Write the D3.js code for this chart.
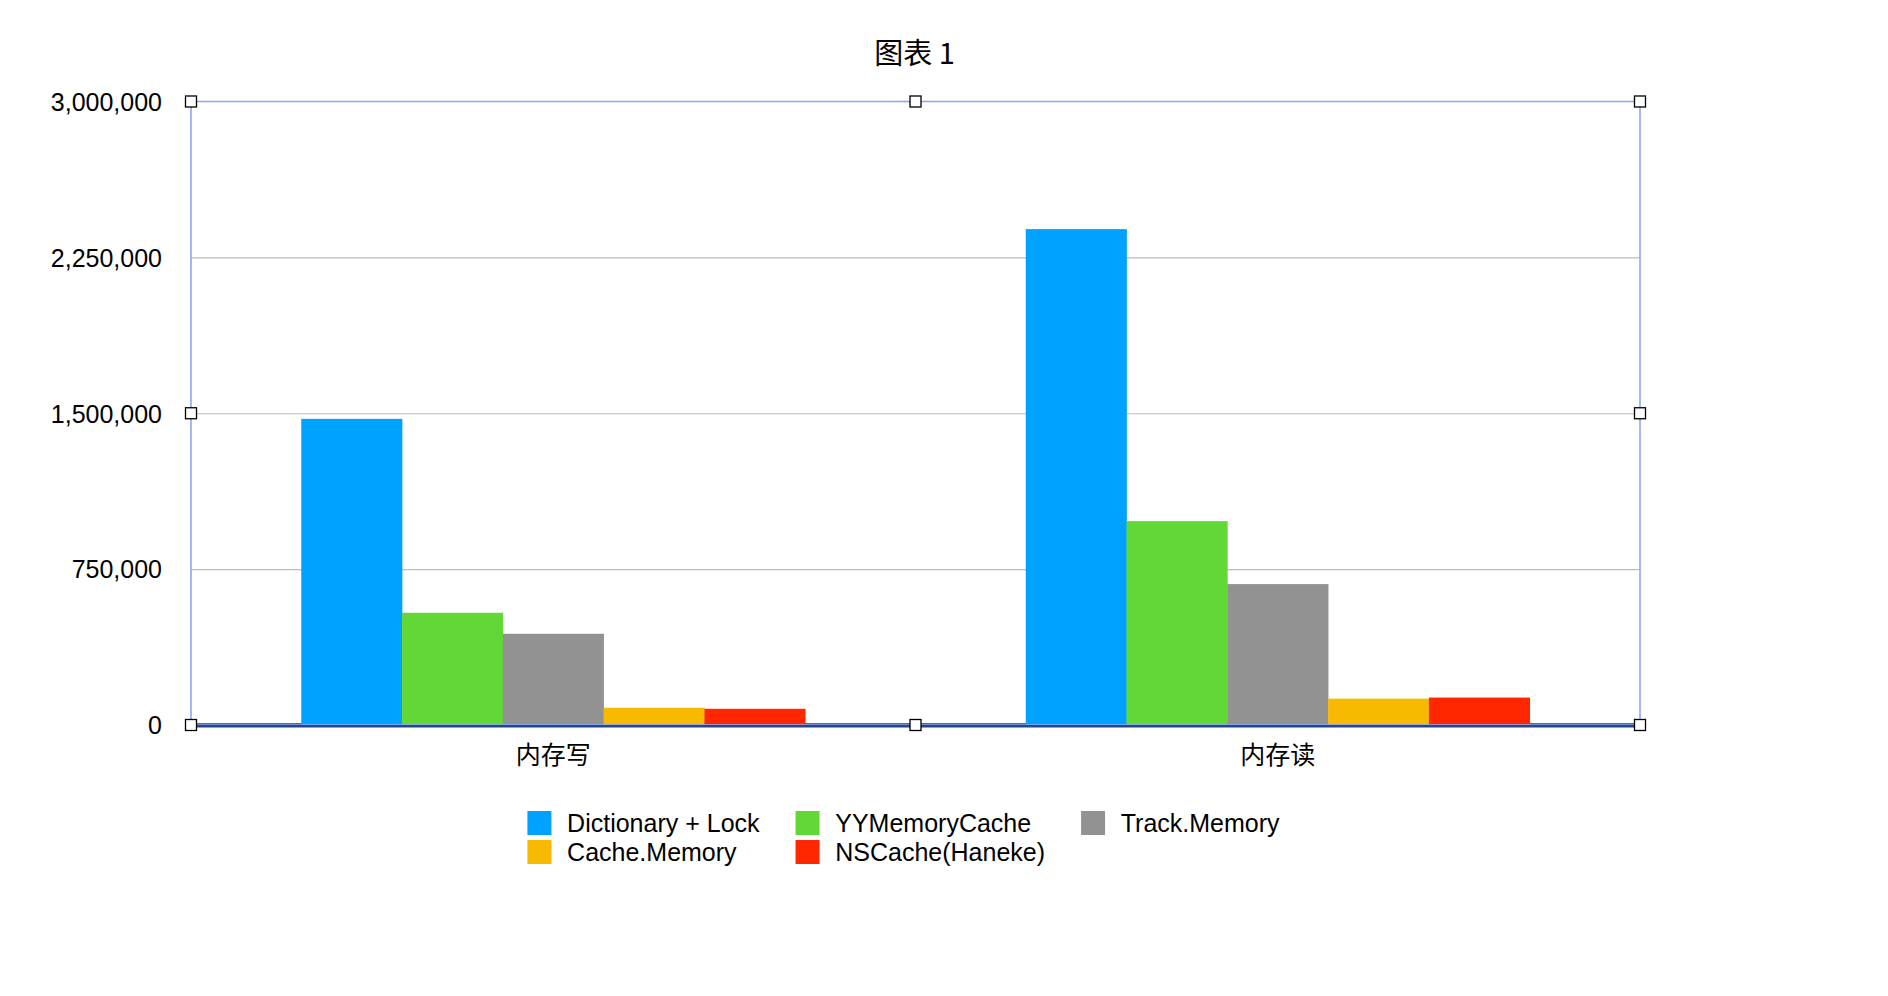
<!DOCTYPE html>
<html>
<head>
<meta charset="utf-8">
<script src="https://cdn.jsdelivr.net/npm/d3@7"></script>
<style>
  html, body { margin: 0; padding: 0; background: #ffffff; }
  svg { display: block; }
  text { font-family: "Liberation Sans", "Noto Sans CJK SC", sans-serif; fill: #000; }
</style>
</head>
<body>
<svg id="chart" width="1888" height="996"></svg>
<script>
const title = "图表 1";
const categories = ["内存写", "内存读"];
const seriesNames = ["Dictionary + Lock", "YYMemoryCache", "Track.Memory", "Cache.Memory", "NSCache(Haneke)"];
const seriesColors = ["#00A2FF", "#61D836", "#929292", "#F8BA00", "#FF2600"];
const dictionaryLock = [1473000, 2386000];
const yyMemoryCache = [540000, 981000];
const trackMemory = [439000, 678000];
const cacheMemory = [83000, 127000];
const nsCacheHaneke = [78000, 132000];
const yTicks = [0, 750000, 1500000, 2250000, 3000000];
const legendRows = [["Dictionary + Lock", "YYMemoryCache", "Track.Memory"], ["Cache.Memory", "NSCache(Haneke)"]];

const seriesValues = [dictionaryLock, yyMemoryCache, trackMemory, cacheMemory, nsCacheHaneke];

const svg = d3.select("#chart");
const plot = { left: 191, right: 1640, top: 101.5, bottom: 725 };

const x0 = d3.scaleBand().domain(categories).range([plot.left, plot.right]).padding(0);
const x1 = d3.scaleBand().domain(seriesNames).range([0, x0.bandwidth()]).paddingInner(0).paddingOuter(1.094);
const y = d3.scaleLinear().domain([0, 3000000]).range([plot.bottom, plot.top]);
const color = d3.scaleOrdinal().domain(seriesNames).range(seriesColors);

// Title
svg.append("text")
  .attr("x", (plot.left + plot.right) / 2 - 1)
  .attr("y", 63.5)
  .attr("text-anchor", "middle")
  .style("font-size", "29px")
  .style("font-family", "'Noto Sans CJK SC', sans-serif")
  .text(title);

// Gridlines
svg.append("g")
  .selectAll("line")
  .data(yTicks.filter(t => t > 0 && t < 3000000))
  .join("line")
  .attr("x1", plot.left).attr("x2", plot.right)
  .attr("y1", d => y(d) + 0.5).attr("y2", d => y(d) + 0.5)
  .attr("stroke", "#bdbdbd").attr("stroke-width", 1.2);

// Y axis labels via d3 axis
const yAxis = d3.axisLeft(y).tickValues(yTicks).tickSize(0).tickPadding(0)
  .tickFormat(d3.format(","));
const yg = svg.append("g").attr("transform", `translate(162,0)`).call(yAxis);
yg.select(".domain").remove();
yg.selectAll("text")
  .attr("x", 0)
  .attr("dy", "0.35em")
  .style("font-size", "25px")
  .style("font-family", "'Liberation Sans', sans-serif")
  .attr("fill", "#000");

// Dark baseline under bars
svg.append("line")
  .attr("x1", plot.left).attr("x2", plot.right)
  .attr("y1", y(0) - 0.8).attr("y2", y(0) - 0.8)
  .attr("stroke", "#33363e").attr("stroke-width", 2);

// Bars
const groups = svg.append("g")
  .selectAll("g")
  .data(categories)
  .join("g")
  .attr("transform", d => `translate(${x0(d)},0)`);

groups.selectAll("rect")
  .data((c, ci) => seriesNames.map((s, si) => ({ s, v: seriesValues[si][ci] })))
  .join("rect")
  .attr("x", d => x1(d.s))
  .attr("width", x1.bandwidth() + 0.3)
  .attr("y", d => y(d.v))
  .attr("height", d => y(0) - y(d.v))
  .attr("fill", d => color(d.s));

// Frame (selection box)
svg.append("rect")
  .attr("x", plot.left).attr("y", plot.top)
  .attr("width", plot.right - plot.left).attr("height", plot.bottom - plot.top)
  .attr("fill", "none").attr("stroke", "#8aa8f4").attr("stroke-width", 1.6);

// Navy axis line over bars
svg.append("line")
  .attr("x1", plot.left).attr("x2", plot.right)
  .attr("y1", y(0) + 1.2).attr("y2", y(0) + 1.2)
  .attr("stroke", "#26468c").attr("stroke-width", 2.4);

// Category labels via d3 axis
const xAxis = d3.axisBottom(x0).tickSize(0).tickPadding(0);
const xg = svg.append("g").attr("transform", `translate(0,755)`).call(xAxis);
xg.select(".domain").remove();
xg.selectAll("text")
  .attr("y", 0)
  .attr("dy", "0.35em")
  .style("font-size", "25px")
  .style("font-family", "'Noto Sans CJK SC', sans-serif")
  .attr("fill", "#000");

// Handles
const hx = [plot.left, (plot.left + plot.right) / 2, plot.right];
const hy = [plot.top, (plot.top + plot.bottom) / 2, plot.bottom];
const handles = [];
hx.forEach((xx, i) => hy.forEach((yy, j) => { if (!(i === 1 && j === 1)) handles.push([xx, yy]); }));
svg.append("g").selectAll("rect").data(handles).join("rect")
  .attr("x", d => d[0] - 5.5).attr("y", d => d[1] - 5.5)
  .attr("width", 11).attr("height", 11)
  .attr("fill", "#fff").attr("stroke", "#000").attr("stroke-width", 1.3);

// Legend
const legend = svg.append("g");
const fs = 25;
const sw = 24, swGap = 15.7, colGap = 36, rowH = 29;
const measure = legend.append("text").style("font-size", fs + "px");
const widthOf = t => { measure.text(t); return measure.node().getComputedTextLength(); };
const nCols = 3;
const colW = [];
for (let c = 0; c < nCols; c++) {
  let m = 0;
  legendRows.forEach(r => { if (r[c]) m = Math.max(m, widthOf(r[c])); });
  colW.push(m);
}
measure.remove();
let total = 0;
colW.forEach((w, i) => { total += sw + swGap + w + (i < nCols - 1 ? colGap : 0); });
const legendCenter = 903.5;
let startX = legendCenter - total / 2;
const colX = [];
let acc = startX;
colW.forEach(w => { colX.push(acc); acc += sw + swGap + w + colGap; });

legendRows.forEach((row, ri) => {
  row.forEach((name, ci) => {
    const gx = colX[ci];
    const gy = 811 + ri * rowH;
    legend.append("rect")
      .attr("x", gx).attr("y", gy).attr("width", sw).attr("height", sw)
      .attr("fill", color(name));
    legend.append("text")
      .attr("x", gx + sw + swGap).attr("y", gy + 21.3)
      .style("font-size", fs + "px")
      .style("font-family", "'Liberation Sans', sans-serif")
      .text(name);
  });
});
</script>
</body>
</html>
